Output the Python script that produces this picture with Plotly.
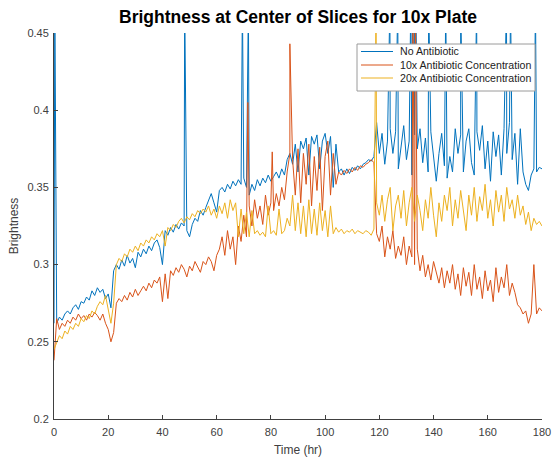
import plotly.graph_objects as go

hours = list(range(0, 181))

no_antibiotic = [
    0.262, 0.262, 0.266, 0.264, 0.268, 0.270, 0.268, 0.272, 0.274, 0.271,
    0.276, 0.275, 0.279, 0.277, 0.283, 0.280, 0.285, 0.282, 0.284, 0.278,
    0.281, 0.272, 0.296, 0.300, 0.297, 0.303, 0.299, 0.306, 0.301, 0.304,
    0.298, 0.308, 0.305, 0.310, 0.307, 0.312, 0.309, 0.314, 0.316, 0.311,
    0.300, 0.322, 0.319, 0.324, 0.321, 0.326, 0.323, 0.327, 0.325, 0.322,
    0.318, 0.326, 0.330, 0.328, 0.335, 0.332, 0.337, 0.342, 0.346, 0.340,
    0.334, 0.348, 0.350, 0.347, 0.352, 0.349, 0.354, 0.351, 0.355, 0.352,
    0.356, 0.350, 0.345, 0.352, 0.348, 0.355, 0.351, 0.356, 0.353, 0.358,
    0.354, 0.357, 0.360, 0.356, 0.362, 0.358, 0.368, 0.372, 0.365, 0.378,
    0.360, 0.380, 0.375, 0.382, 0.358, 0.383, 0.378, 0.384, 0.362, 0.380,
    0.385, 0.372, 0.383, 0.350, 0.378, 0.360, 0.362, 0.358, 0.362, 0.359,
    0.363, 0.361, 0.364, 0.362, 0.365, 0.366, 0.368, 0.367, 0.370, 0.392,
    0.372, 0.385, 0.365, 0.380, 0.388, 0.372, 0.386, 0.362, 0.378, 0.390,
    0.368, 0.380, 0.358, 0.384, 0.375, 0.388, 0.366, 0.382, 0.360, 0.386,
    0.368, 0.354, 0.372, 0.385, 0.364, 0.356, 0.370, 0.360, 0.388, 0.372,
    0.384, 0.360, 0.380, 0.388, 0.366, 0.358, 0.386, 0.374, 0.390, 0.362,
    0.380, 0.354, 0.386, 0.370, 0.384, 0.358, 0.388, 0.372, 0.392, 0.368,
    0.385, 0.352, 0.388, 0.360, 0.352, 0.348, 0.358, 0.362, 0.360, 0.363,
    0.362,
]

conc_10x = [
    0.238, 0.265, 0.258, 0.262, 0.260, 0.264, 0.262, 0.266, 0.264, 0.268,
    0.265, 0.267, 0.264, 0.268, 0.266, 0.269, 0.267, 0.264, 0.268, 0.262,
    0.258, 0.250, 0.256, 0.275, 0.278, 0.276, 0.280, 0.277, 0.282, 0.279,
    0.284, 0.280, 0.283, 0.286, 0.283, 0.288, 0.285, 0.290, 0.288, 0.292,
    0.276, 0.294, 0.278, 0.296, 0.293, 0.298, 0.295, 0.300, 0.297, 0.292,
    0.299, 0.296, 0.302, 0.298, 0.295, 0.302, 0.300, 0.305, 0.302, 0.296,
    0.306, 0.310, 0.318, 0.306, 0.322, 0.310, 0.318, 0.300, 0.325, 0.315,
    0.332, 0.318, 0.338, 0.325, 0.342, 0.330, 0.338, 0.326, 0.345, 0.332,
    0.340, 0.335, 0.346, 0.338, 0.350, 0.342, 0.360, 0.372, 0.368, 0.345,
    0.375, 0.340, 0.372, 0.352, 0.378, 0.338, 0.370, 0.348, 0.376, 0.335,
    0.370, 0.380, 0.345, 0.372, 0.352, 0.360, 0.358, 0.361, 0.359, 0.362,
    0.360, 0.363, 0.361, 0.364, 0.363, 0.365, 0.366, 0.368, 0.366, 0.320,
    0.315, 0.325, 0.305, 0.318, 0.310, 0.322, 0.304, 0.312, 0.306, 0.318,
    0.300, 0.312, 0.305, 0.300, 0.310, 0.296, 0.306, 0.292, 0.300, 0.290,
    0.302, 0.294, 0.288, 0.298, 0.285, 0.296, 0.288, 0.300, 0.284, 0.294,
    0.280, 0.298, 0.286, 0.295, 0.280, 0.300, 0.284, 0.292, 0.278, 0.296,
    0.283, 0.290, 0.276, 0.298, 0.282, 0.292, 0.285, 0.300, 0.280, 0.288,
    0.282, 0.274, 0.272, 0.268, 0.270, 0.262, 0.268, 0.300, 0.268, 0.272,
    0.270,
]

conc_20x = [
    0.245, 0.250, 0.254, 0.252, 0.257, 0.255, 0.260, 0.258, 0.262, 0.260,
    0.265, 0.263, 0.267, 0.265, 0.270, 0.268, 0.273, 0.276, 0.274, 0.280,
    0.270, 0.262, 0.275, 0.300, 0.304, 0.302, 0.307, 0.305, 0.310, 0.308,
    0.312, 0.309, 0.314, 0.312, 0.316, 0.314, 0.318, 0.316, 0.320, 0.318,
    0.322, 0.312, 0.324, 0.322, 0.326, 0.324, 0.328, 0.330, 0.327, 0.331,
    0.329, 0.333, 0.331, 0.335, 0.333, 0.336, 0.334, 0.338, 0.332, 0.336,
    0.330, 0.338, 0.333, 0.340, 0.330, 0.342, 0.335, 0.340, 0.318, 0.336,
    0.320, 0.334, 0.318, 0.335, 0.320, 0.322, 0.319, 0.321, 0.318, 0.338,
    0.320, 0.322, 0.319, 0.336, 0.320, 0.322, 0.330, 0.325, 0.345, 0.322,
    0.340, 0.320, 0.338, 0.318, 0.342, 0.320, 0.336, 0.319, 0.340, 0.322,
    0.335, 0.318, 0.338, 0.320, 0.324, 0.321, 0.323, 0.320, 0.322, 0.321,
    0.323, 0.320, 0.322, 0.321, 0.320, 0.322, 0.321, 0.319, 0.323, 0.340,
    0.332, 0.345, 0.328, 0.342, 0.350, 0.322, 0.338, 0.345, 0.330, 0.348,
    0.325, 0.340, 0.350, 0.328, 0.345, 0.335, 0.322, 0.342, 0.330, 0.350,
    0.332, 0.318, 0.340, 0.328, 0.345, 0.335, 0.350, 0.325, 0.342, 0.330,
    0.348, 0.336, 0.322, 0.345, 0.332, 0.350, 0.328, 0.344, 0.335, 0.352,
    0.330, 0.342, 0.325, 0.348, 0.334, 0.345, 0.328, 0.350, 0.336, 0.342,
    0.330, 0.345, 0.332, 0.338, 0.326, 0.334, 0.322, 0.330, 0.326, 0.328,
    0.325,
]

# Transient spikes (time in hr, brightness)
spike_t_none = [0.3, 48.2, 69.5, 71.7, 123.9, 126.8, 131.6, 132.2, 133.0, 133.5,
                138.2, 144.5, 150.0, 155.9, 166.9, 168.4, 177.6]
spike_v_none = [0.47, 0.47, 0.47, 0.47, 0.47, 0.47, 0.47, 0.47, 0.47, 0.47,
                0.47, 0.47, 0.47, 0.47, 0.47, 0.47, 0.47]
spike_t_10x = [71.5, 80.5, 87.0, 132.4, 133.3]
spike_v_10x = [0.405, 0.373, 0.443, 0.47, 0.47]
spike_t_20x = [118.8]
spike_v_20x = [0.47]

series_names = ["No Antibiotic", "10x Antibiotic Concentration", "20x Antibiotic Concentration"]
colors = ["#0072BD", "#D95319", "#EDB120"]

FONT = "Liberation Sans, Arial, sans-serif"

# plot-area pixel geometry (for converting legend placement to paper coords)
PX_L, PX_R, PX_T, PX_B = 54, 542, 33, 419


def merge(base_t, base_v, st, sv):
    pts = sorted(list(zip(base_t, base_v)) + list(zip(st, sv)))
    return [p[0] for p in pts], [p[1] for p in pts]


def px(xp):
    return (xp - PX_L) / (PX_R - PX_L)


def py(yp):
    return (PX_B - yp) / (PX_B - PX_T)


data = [
    merge(hours, no_antibiotic, spike_t_none, spike_v_none),
    merge(hours, conc_10x, spike_t_10x, spike_v_10x),
    merge(hours, conc_20x, spike_t_20x, spike_v_20x),
]

fig = go.Figure()
for (tx, vy), name, c in zip(data, series_names, colors):
    fig.add_trace(go.Scatter(x=tx, y=vy, mode="lines", name=name,
                             line=dict(color=c, width=1), showlegend=False))

# Compact MATLAB-style legend box
shapes = [dict(type="rect", xref="paper", yref="paper",
               x0=px(357), x1=px(535), y0=py(91), y1=py(44),
               fillcolor="white", line=dict(color="#9a9a9a", width=1), layer="above")]
annotations = []
entry_y = [51.5, 65, 78]
for name, c, ey in zip(series_names, colors, entry_y):
    shapes.append(dict(type="line", xref="paper", yref="paper",
                       x0=px(361), x1=px(393), y0=py(ey), y1=py(ey),
                       line=dict(color=c, width=1), layer="above"))
    annotations.append(dict(text=name, xref="paper", yref="paper", x=px(398), y=py(ey),
                            xanchor="left", yanchor="middle", showarrow=False,
                            font=dict(family=FONT, size=10.6, color="#222222")))

fig.update_layout(
    width=553, height=457,
    margin=dict(l=PX_L, r=553 - PX_R, t=PX_T, b=457 - PX_B),
    paper_bgcolor="white", plot_bgcolor="white",
    title=dict(text="<b>Brightness at Center of Slices for 10x Plate</b>",
               x=(PX_L + PX_R) / 2 / 553, xanchor="center", y=1 - 17 / 457, yanchor="middle",
               font=dict(family=FONT, size=17.5, color="black")),
    font=dict(family=FONT, size=11, color="#404040"),
    shapes=shapes,
    annotations=annotations,
    xaxis=dict(range=[0, 180], tickvals=[0, 20, 40, 60, 80, 100, 120, 140, 160, 180],
               showgrid=False, zeroline=False, showline=True, linecolor="#404040", linewidth=1,
               ticks="inside", ticklen=4, tickcolor="#404040", ticklabelstandoff=3,
               automargin=False,
               title=dict(text="Time (hr)", font=dict(size=12, color="#404040"), standoff=9)),
    yaxis=dict(range=[0.2, 0.45], tickvals=[0.2, 0.25, 0.3, 0.35, 0.4, 0.45],
               ticktext=["0.2", "0.25", "0.3", "0.35", "0.4", "0.45"],
               showgrid=False, zeroline=False, showline=True, linecolor="#404040", linewidth=1,
               ticks="inside", ticklen=4, tickcolor="#404040", ticklabelstandoff=2,
               automargin=False,
               title=dict(text="Brightness", font=dict(size=12, color="#404040"), standoff=6)),
)

fig.write_html("out.html")
